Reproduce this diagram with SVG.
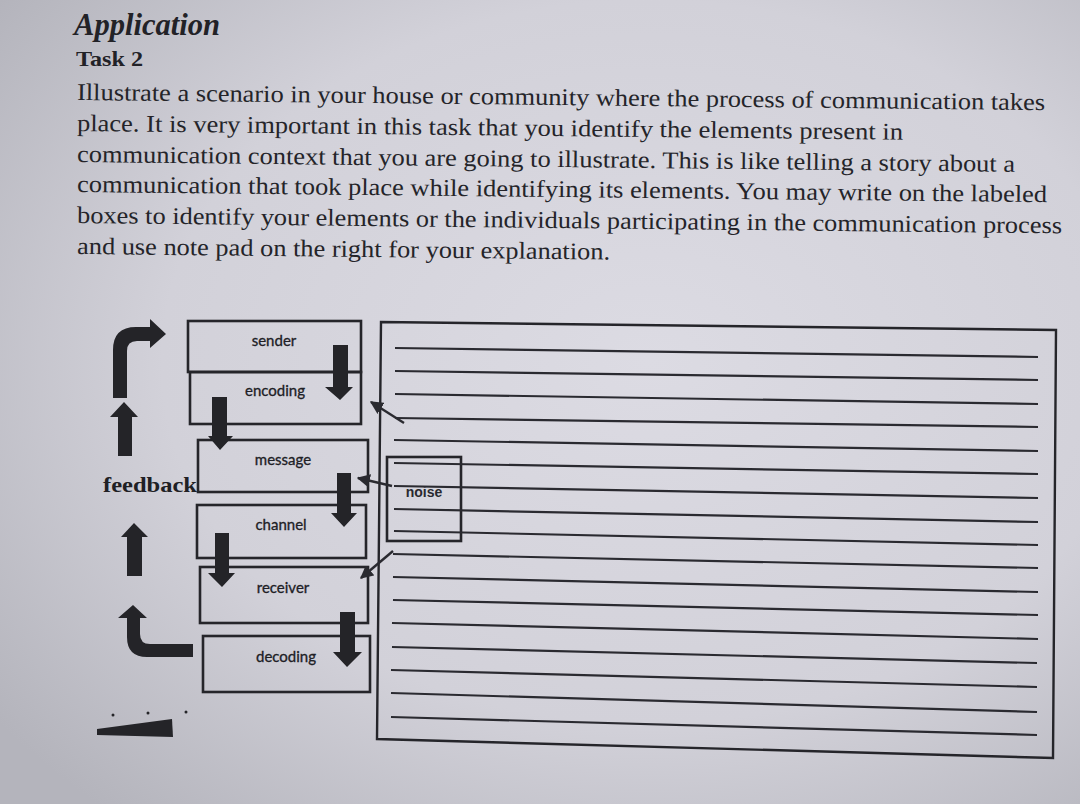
<svg xmlns="http://www.w3.org/2000/svg" width="1080" height="804" viewBox="0 0 1080 804">
  <defs>
    <radialGradient id="paper" cx="0.6" cy="0.45" r="0.75">
      <stop offset="0" stop-color="#dcdbe3"/>
      <stop offset="0.6" stop-color="#d2d1d9"/>
      <stop offset="1" stop-color="#b4b4bc"/>
    </radialGradient>
    <marker id="thinhead" viewBox="0 0 10 10" refX="9" refY="5" markerWidth="5.5" markerHeight="5.5" orient="auto">
      <path d="M0,0 L10,5 L0,10 Z" fill="#2a2a30"/>
    </marker>
    <style>
      .title { font-family: "Liberation Serif", "Times New Roman", serif; font-weight: bold; font-style: italic; font-size: 31px; fill: #222227; }
      .task { font-family: "Liberation Serif", "Times New Roman", serif; font-weight: bold; font-size: 22px; fill: #222227; }
      .para { font-family: "Liberation Serif", "Times New Roman", serif; font-size: 24px; fill: #242429; }
      .box { fill: none; stroke: #25252a; stroke-width: 2.6; }
      .lbl { font-family: Lato, "Open Sans", "Liberation Sans", sans-serif; font-size: 15px; fill: #202025; text-anchor: middle; stroke: #202025; stroke-width: 0.3; }
      .blk { fill: #242428; }
      .rule { stroke: #2a2a30; stroke-width: 2.2; }
      .thin { stroke: #2a2a30; stroke-width: 2.4; fill: none; marker-end: url(#thinhead); }
      .fb { font-family: "Liberation Serif", "Times New Roman", serif; font-weight: bold; font-size: 21px; fill: #202024; }
      .noise { font-family: "Liberation Sans", Arial, sans-serif; font-weight: bold; font-size: 14px; fill: #2a2a30; text-anchor: middle; }
    </style>
  </defs>

  <rect x="0" y="0" width="1080" height="804" fill="url(#paper)"/>

  <g id="heading">
    <text class="title" x="74" y="35" textLength="146" lengthAdjust="spacingAndGlyphs">Application</text>
    <text class="task" x="76" y="66" textLength="67" lengthAdjust="spacingAndGlyphs">Task 2</text>
    <text class="para" x="77" y="100" transform="rotate(0.6 77 100)" textLength="968" lengthAdjust="spacingAndGlyphs">Illustrate a scenario in your house or community where the process of communication takes</text>
    <text class="para" x="77" y="131" transform="rotate(0.6 77 131)" textLength="826" lengthAdjust="spacingAndGlyphs">place. It is very important in this task that you identify the elements present in</text>
    <text class="para" x="77" y="162" transform="rotate(0.6 77 162)" textLength="938" lengthAdjust="spacingAndGlyphs">communication context that you are going to illustrate. This is like telling a story about a</text>
    <text class="para" x="77" y="192" transform="rotate(0.6 77 192)" textLength="970" lengthAdjust="spacingAndGlyphs">communication that took place while identifying its elements. You may write on the labeled</text>
    <text class="para" x="77" y="223" transform="rotate(0.6 77 223)" textLength="985" lengthAdjust="spacingAndGlyphs">boxes to identify your elements or the individuals participating in the communication process</text>
    <text class="para" x="77" y="254" transform="rotate(0.6 77 254)" textLength="533" lengthAdjust="spacingAndGlyphs">and use note pad on the right for your explanation.</text>
  </g>

  <g id="sender">
    <rect class="box" x="188" y="321" width="173" height="51"/>
    <text class="lbl" x="274" y="346">sender</text>
  </g>
  <g id="encoding">
    <rect class="box" x="190" y="372" width="171" height="52"/>
    <text class="lbl" x="275" y="396">encoding</text>
  </g>
  <g id="message">
    <rect class="box" x="198" y="440" width="170" height="52"/>
    <text class="lbl" x="283" y="465">message</text>
  </g>
  <g id="channel">
    <rect class="box" x="197" y="505" width="169" height="53"/>
    <text class="lbl" x="281" y="530">channel</text>
  </g>
  <g id="receiver">
    <rect class="box" x="200" y="567" width="168" height="56"/>
    <text class="lbl" x="283" y="593">receiver</text>
  </g>
  <g id="decoding">
    <rect class="box" x="203" y="636" width="167" height="56"/>
    <text class="lbl" x="286" y="662">decoding</text>
  </g>

  <g id="feedback">
    <text class="fb" x="103" y="492" textLength="94" lengthAdjust="spacingAndGlyphs">feedback</text>
  </g>

  <g id="noise">
    <rect class="box" x="387" y="457" width="74" height="84"/>
    <text class="noise" x="424" y="497">noise</text>
  </g>

  <g id="notepad">
    <polygon points="381,322 1056,330 1053,758 377,739" fill="none" stroke="#25252a" stroke-width="2.4"/>
    <line class="rule" x1="395" y1="348" x2="1038" y2="357"/>
    <line class="rule" x1="395" y1="371" x2="1038" y2="380"/>
    <line class="rule" x1="395" y1="394" x2="1038" y2="404"/>
    <line class="rule" x1="395" y1="418" x2="1038" y2="427"/>
    <line class="rule" x1="394" y1="440" x2="1038" y2="451"/>
    <line class="rule" x1="394" y1="463" x2="1038" y2="474"/>
    <line class="rule" x1="394" y1="486" x2="1038" y2="498"/>
    <line class="rule" x1="394" y1="509" x2="1038" y2="522"/>
    <line class="rule" x1="394" y1="531" x2="1038" y2="545"/>
    <line class="rule" x1="393" y1="554" x2="1038" y2="568"/>
    <line class="rule" x1="393" y1="577" x2="1038" y2="592"/>
    <line class="rule" x1="393" y1="600" x2="1038" y2="615"/>
    <line class="rule" x1="392" y1="623" x2="1038" y2="639"/>
    <line class="rule" x1="392" y1="647" x2="1037" y2="663"/>
    <line class="rule" x1="391" y1="670" x2="1037" y2="687"/>
    <line class="rule" x1="391" y1="693" x2="1037" y2="712"/>
    <line class="rule" x1="391" y1="717" x2="1037" y2="735"/>
  </g>

  <g id="connectors">
    <!-- process block arrows -->
    <path class="blk" d="M333,345 L348,345 L348,387 L353,387 L340,400 L325,387 L333,387 Z"/>
    <path class="blk" d="M212,397 L227,397 L227,436 L233,436 L220,450 L208,436 L212,436 Z"/>
    <path class="blk" d="M337,473 L351,473 L351,513 L357,513 L344,527 L331,513 L337,513 Z"/>
    <path class="blk" d="M215,533 L229,533 L229,573 L235,573 L222,587 L208,573 L215,573 Z"/>
    <path class="blk" d="M340,612 L355,612 L355,652 L362,652 L347,667 L333,652 L340,652 Z"/>
    <!-- feedback arrows -->
    <path class="blk" d="M113,398 L113,350 Q113,327 136,327 L150,327 L150,319 L166,334 L150,348 L150,341 L137,341 Q127,341 127,351 L127,398 Z"/>
    <path class="blk" d="M118,456 L118,417 L110,417 L124,402 L138,417 L132,417 L132,456 Z"/>
    <path class="blk" d="M127,576 L127,537 L121,537 L134,523 L148,537 L142,537 L142,576 Z"/>
    <path class="blk" d="M193,644 L150,644 Q140,644 140,634 L140,618 L147,618 L133,605 L118,618 L127,618 L127,637 Q127,657 147,657 L193,657 Z"/>
    <!-- noise arrows -->
    <line class="thin" x1="404" y1="423" x2="371" y2="402"/>
    <line class="thin" x1="392" y1="486" x2="358" y2="478"/>
    <line class="thin" x1="393" y1="551" x2="361" y2="578"/>
  </g>

  <g id="scribble">
    <polygon class="blk" points="97,729 172,719 173,737 97,735"/>
    <circle class="blk" cx="113" cy="715" r="1.5"/>
    <circle class="blk" cx="148" cy="713" r="1.5"/>
    <circle class="blk" cx="186" cy="712" r="1.5"/>
  </g>
</svg>
